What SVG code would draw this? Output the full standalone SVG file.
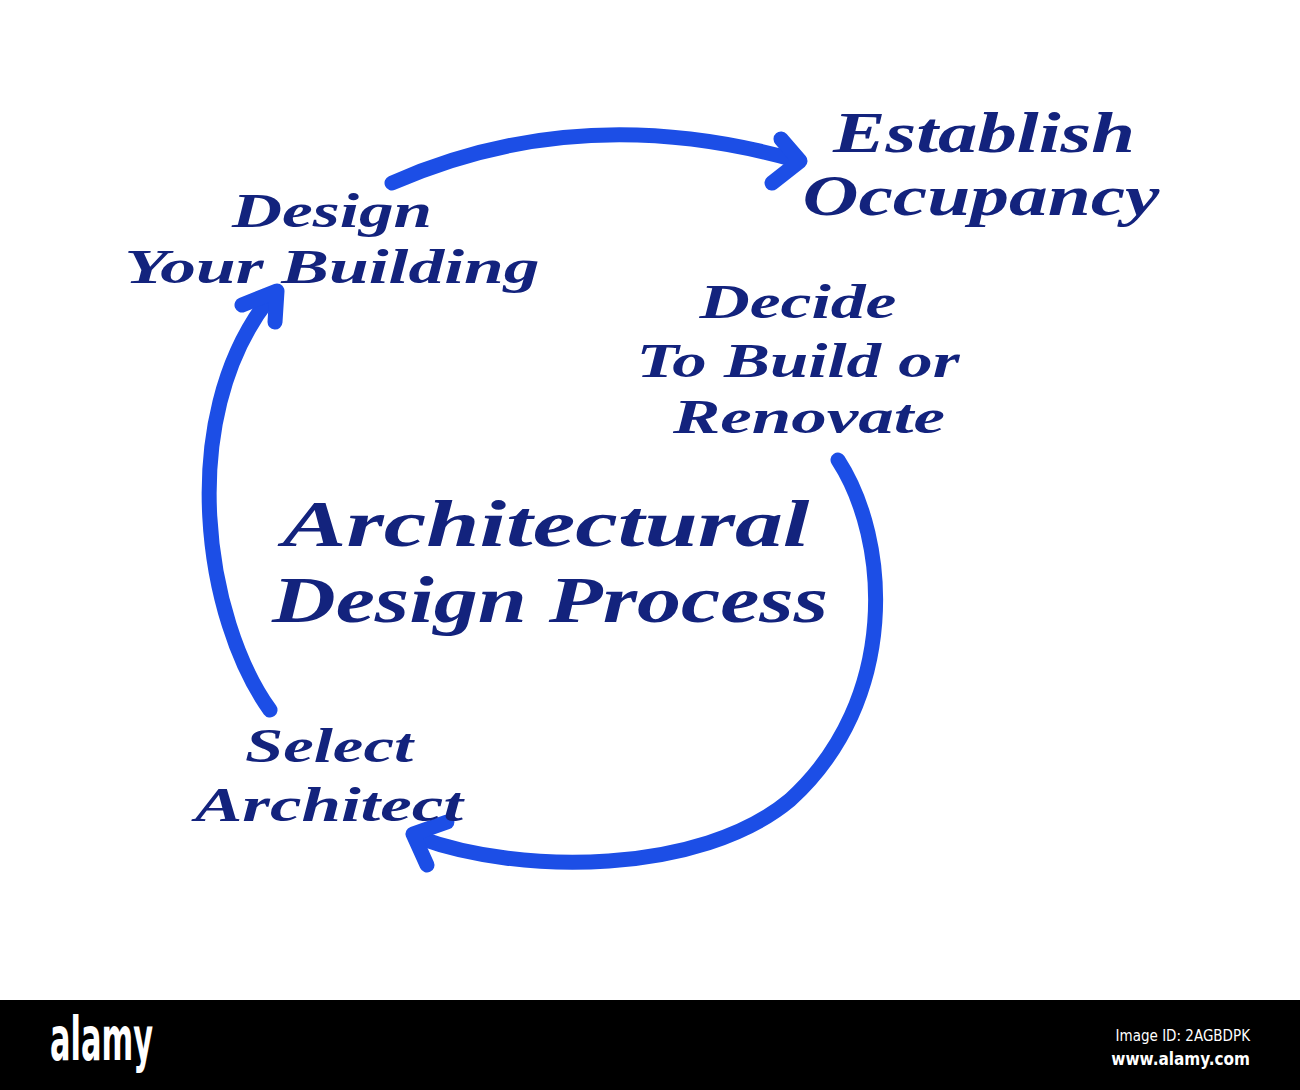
<svg xmlns="http://www.w3.org/2000/svg" width="1300" height="1090" viewBox="0 0 1300 1090">
<style>
.lbl{font-family:"Liberation Serif","DejaVu Serif",serif;font-style:italic;font-weight:bold;fill:#13237d;text-anchor:middle}
.arc{fill:none;stroke:#1c4ee6;stroke-width:15;stroke-linecap:round;stroke-linejoin:round}
.wm{font-family:"DejaVu Sans Condensed","DejaVu Sans",sans-serif;fill:#fff}
</style>
<rect width="1300" height="1090" fill="#fff"/>
<g id="connectors">
<path class="arc" d="M392,183 Q580,100 795,160"/>
<path class="arc" d="M781,139 L800,161 L772,183"/>
<path class="arc" d="M270,710 C205,620 175,420 268,300"/>
<path class="arc" d="M242,305 L277,291 L275,322"/>
<path class="arc" d="M838,460 C890,540 900,700 790,800 C700,875 520,875 420,838"/>
<path class="arc" d="M447,822 L413,834 L427,865"/>
</g>
<g id="establish">
<text class="lbl" x="984" y="152" font-size="56" textLength="302" lengthAdjust="spacingAndGlyphs">Establish</text>
<text class="lbl" x="981" y="215" font-size="56" textLength="357" lengthAdjust="spacingAndGlyphs">Occupancy</text>
</g>
<g id="design">
<text class="lbl" x="332" y="227" font-size="48" textLength="200" lengthAdjust="spacingAndGlyphs">Design</text>
<text class="lbl" x="332" y="283" font-size="48" textLength="415" lengthAdjust="spacingAndGlyphs">Your Building</text>
</g>
<g id="decide">
<text class="lbl" x="798" y="318" font-size="48" textLength="197" lengthAdjust="spacingAndGlyphs">Decide</text>
<text class="lbl" x="798" y="377" font-size="48" textLength="323" lengthAdjust="spacingAndGlyphs">To Build or</text>
<text class="lbl" x="809" y="433" font-size="48" textLength="272" lengthAdjust="spacingAndGlyphs">Renovate</text>
</g>
<g id="center">
<text class="lbl" x="546" y="546" font-size="66" textLength="527" lengthAdjust="spacingAndGlyphs">Architectural</text>
<text class="lbl" x="550" y="622" font-size="66" textLength="556" lengthAdjust="spacingAndGlyphs">Design Process</text>
</g>
<g id="select">
<text class="lbl" x="329" y="762" font-size="48" textLength="168" lengthAdjust="spacingAndGlyphs">Select</text>
<text class="lbl" x="329" y="821" font-size="48" textLength="268" lengthAdjust="spacingAndGlyphs">Architect</text>
</g>
<g id="watermark">
<rect x="0" y="1000" width="1300" height="90" fill="#000"/>
<text class="wm" x="50" y="1060" font-size="60" font-weight="bold" textLength="103" lengthAdjust="spacingAndGlyphs">alamy</text>
<text class="wm" x="1250" y="1041" font-size="15" text-anchor="end">Image ID: 2AGBDPK</text>
<text class="wm" x="1250" y="1065" font-size="17" text-anchor="end" font-weight="bold">www.alamy.com</text>
</g>
</svg>
